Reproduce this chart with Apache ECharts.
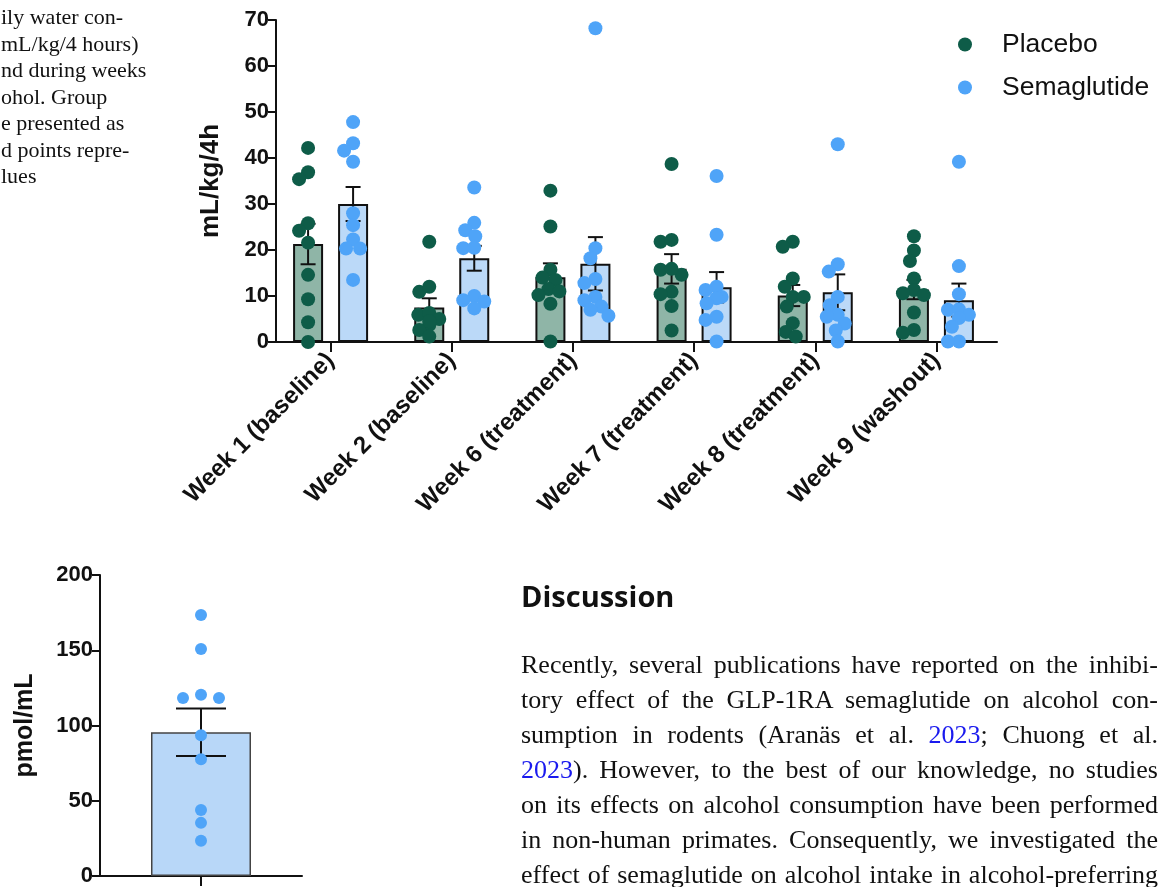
<!DOCTYPE html>
<html>
<head>
<meta charset="utf-8">
<style>
  html, body { margin: 0; width: 1163px; height: 887px; background: #fff; overflow: hidden; }
  #container { position: absolute; left: 0; top: 0; width: 1163px; height: 887px; }
  .caption { position: absolute; left: 1px; top: 4px; font-family: "Liberation Serif"; font-size: 22px; line-height: 26.5px; color: #111; white-space: nowrap; }
  .heading { position: absolute; left: 521px; top: 577px; font-family: "Open Sans"; font-weight: 700; font-size: 29px; line-height: 38px; color: #111; }
  .para { position: absolute; left: 521px; top: 647px; width: 637px; font-family: "Liberation Serif"; font-size: 26px; line-height: 35px; color: #111; }
  .para .ln { white-space: nowrap; }
  .para .ref { color: #1a1aee; }
</style>
</head>
<body>
<div id="container"></div>
<div class="caption">
  <div>ily water con-</div>
  <div>mL/kg/4 hours)</div>
  <div>nd during weeks</div>
  <div>ohol. Group</div>
  <div>e presented as</div>
  <div>d points repre-</div>
  <div>lues</div>
</div>
<div class="heading">Discussion</div>
<div class="para">
  <div class="ln"><span>Recently, several publications have reported on the inhibi-</span></div>
  <div class="ln"><span>tory effect of the GLP-1RA semaglutide on alcohol con-</span></div>
  <div class="ln"><span>sumption in rodents (Aranäs et al. <span class="ref">2023</span>; Chuong et al.</span></div>
  <div class="ln"><span><span class="ref">2023</span>). However, to the best of our knowledge, no studies</span></div>
  <div class="ln"><span>on its effects on alcohol consumption have been performed</span></div>
  <div class="ln"><span>in non-human primates. Consequently, we investigated the</span></div>
  <div class="ln"><span>effect of semaglutide on alcohol intake in alcohol-preferring</span></div>
</div>
<script src="https://cdn.jsdelivr.net/npm/echarts@6/dist/echarts.min.js"></script>
<script>
  // ---- data ----
  const weeks = ['Week 1 (baseline)', 'Week 2 (baseline)', 'Week 6 (treatment)',
    'Week 7 (treatment)', 'Week 8 (treatment)', 'Week 9 (washout)'];
  const waterTicks = [0, 10, 20, 30, 40, 50, 60, 70];

  const placeboMean = [21.3, 7.5, 14.1, 15.9, 10.1, 11.4];
  const placeboSem = [4.4, 2.0, 3.0, 3.2, 2.3, 2.1];
  const placeboPoints = [
    [42.2, 36.9, 35.4, 25.8, 24.2, 21.6, 14.6, 9.3, 4.3, 0],
    [21.8, 10.9, 12.0, 5.9, 6.3, 5.0, 3.7, 2.6, 1.2, 4.5],
    [32.9, 25.1, 15.7, 14.0, 13.5, 11.5, 11.0, 10.2, 8.3, 0.1],
    [38.7, 21.8, 22.2, 14.6, 15.7, 15.9, 10.9, 10.4, 7.8, 2.5],
    [21.8, 20.7, 13.8, 12.0, 9.8, 9.8, 7.7, 4.1, 2.2, 1.2],
    [23.0, 19.9, 17.6, 13.8, 11.3, 10.6, 10.2, 6.4, 2.6, 2.0]
  ];

  const semaMean = [30.0, 18.2, 17.0, 11.9, 10.8, 9.1];
  const semaSem = [3.7, 2.7, 5.8, 3.3, 3.9, 3.6];
  const semaPoints = [
    [47.8, 43.2, 41.6, 39.2, 28.0, 25.4, 22.3, 20.3, 20.3, 13.5],
    [33.6, 25.9, 24.3, 23.0, 20.4, 20.5, 10.0, 9.1, 8.8, 7.3],
    [68.2, 20.4, 18.2, 13.7, 12.8, 9.8, 9.1, 7.7, 7.0, 5.7],
    [36.1, 23.3, 12.0, 11.3, 9.8, 9.5, 8.4, 5.5, 4.8, 0.1],
    [43.0, 16.9, 15.3, 9.8, 8.0, 5.9, 5.5, 4.0, 2.5, 0.1],
    [39.2, 16.5, 10.4, 7.0, 7.1, 5.9, 5.2, 3.3, 0.1, 0.1]
  ];

  const plasmaCats = ['Semaglutide'];
  const plasmaTicks = [0, 50, 100, 150, 200];
  const plasmaMean = [95.5];
  const plasmaSem = [15.8];
  const plasmaPoints = [[173.5, 150.8, 120.5, 118.3, 118.3, 93.5, 77.5, 43.9, 35.3, 23.4]];

  // ---- text justification for the paragraph ----
  document.querySelectorAll('.para .ln').forEach(function (el) {
    const span = el.firstElementChild;
    const spaces = (span.textContent.match(/ /g) || []).length;
    const w = span.getBoundingClientRect().width;
    if (spaces) el.style.wordSpacing = ((637 - w) / spaces) + 'px';
  });

  const INK = '#111';
  const FONT = "'Liberation Sans', Arial, sans-serif";
  const greenDot = '#0e5c48';
  const greenBar = '#8fb5a7';
  const blueDot = '#4fa4f8';
  const blueBar = '#bbd9f8';

  // simple beeswarm: spread close values sideways (pixel offsets)
  function swarm(vals, ppu, minD, step, maxOff) {
    const order = vals.map((v, i) => i).sort((a, b) => vals[b] - vals[a]);
    const placed = [];
    const out = [];
    order.forEach(function (i) {
      const y = vals[i] * ppu;
      let dx = 0, found = false;
      for (let s = 0; s <= maxOff && !found; s += step) {
        const tries = s ? [-s, s] : [0];
        for (const t of tries) {
          if (placed.every(p => Math.hypot(p[0] - t, p[1] - y) >= minD)) {
            dx = t; found = true; break;
          }
        }
      }
      placed.push([dx, y]);
      out[i] = dx;
    });
    return out;
  }

  function dotSeries(name, points, color, axis, offset, r, minD, step, maxOff) {
    const data = [];
    points.forEach((arr, c) => arr.forEach((v, k) => data.push([c, v, k])));
    return {
      type: 'custom', name: name, xAxisIndex: axis, yAxisIndex: axis, z: 5,
      itemStyle: { color: color },
      data: data,
      renderItem: function (params, api) {
        const c = api.value(0), k = api.value(2);
        const p = api.coord([c, api.value(1)]);
        const ppu = api.size([0, 1])[1];
        const dx = swarm(points[c], ppu, minD, step, maxOff)[k];
        return { type: 'circle', shape: { cx: p[0] + offset + dx, cy: p[1], r: r }, style: { fill: color } };
      }
    };
  }

  function errorSeries(means, sems, axis, offset, capHalf) {
    return {
      type: 'custom', xAxisIndex: axis, yAxisIndex: axis, z: 4, silent: true,
      data: means.map((m, i) => [i, m - sems[i], m + sems[i]]),
      renderItem: function (params, api) {
        const lo = api.coord([api.value(0), api.value(1)]);
        const hi = api.coord([api.value(0), api.value(2)]);
        const x = lo[0] + offset;
        const st = { stroke: INK, lineWidth: 2 };
        return {
          type: 'group', children: [
            { type: 'line', shape: { x1: x, y1: lo[1], x2: x, y2: hi[1] }, style: st },
            { type: 'line', shape: { x1: x - capHalf, y1: hi[1], x2: x + capHalf, y2: hi[1] }, style: st },
            { type: 'line', shape: { x1: x - capHalf, y1: lo[1], x2: x + capHalf, y2: lo[1] }, style: st }
          ]
        };
      }
    };
  }

  const barW = 30, barGap = 15;
  const side = (barW + barGap) / 2;

  const axisLine = { show: true, lineStyle: { color: INK, width: 2 } };
  const axisTick = { show: true, length: 8, lineStyle: { color: INK, width: 2 } };

  const dom = document.getElementById('container');
  const myChart = echarts.init(dom, null, { renderer: 'canvas' });

  const option = {
    animation: false,
    textStyle: { fontFamily: FONT },
    grid: [
      { left: 270, top: 20, width: 727, height: 322 },
      { left: 100, top: 575, width: 202, height: 302 }
    ],
    legend: {
      data: ['Placebo', 'Semaglutide'],
      orient: 'vertical', left: 953, top: 26,
      icon: 'circle', itemWidth: 64, itemHeight: 14, itemGap: 16,
      textStyle: { fontFamily: FONT, fontSize: 26.5, color: INK },
      selectedMode: false
    },
    xAxis: [
      {
        type: 'category', gridIndex: 0, data: weeks,
        axisLine: axisLine,
        axisTick: { show: true, alignWithLabel: true, length: 10, lineStyle: { color: INK, width: 2 } },
        axisLabel: { interval: 0, rotate: 45, margin: 15, fontFamily: FONT, fontWeight: 'bold', fontSize: 24, color: INK }
      },
      {
        type: 'category', gridIndex: 1, data: plasmaCats,
        axisLine: axisLine,
        axisTick: { show: true, alignWithLabel: true, length: 10, lineStyle: { color: INK, width: 2 } },
        axisLabel: { show: false }
      }
    ],
    yAxis: [
      {
        type: 'value', gridIndex: 0, offset: -6,
        min: waterTicks[0], max: waterTicks[waterTicks.length - 1], interval: 10,
        name: 'mL/kg/4h', nameLocation: 'middle', nameGap: 52, nameRotate: 90,
        nameTextStyle: { fontFamily: FONT, fontWeight: 'bold', fontSize: 26, color: INK },
        axisLine: axisLine, axisTick: axisTick, splitLine: { show: false },
        axisLabel: { margin: 7, fontFamily: FONT, fontWeight: 'bold', fontSize: 22, color: INK }
      },
      {
        type: 'value', gridIndex: 1, min: plasmaTicks[0], max: plasmaTicks[plasmaTicks.length - 1], interval: 50,
        name: 'pmol/mL', nameLocation: 'middle', nameGap: 62, nameRotate: 90,
        nameTextStyle: { fontFamily: FONT, fontWeight: 'bold', fontSize: 25, color: INK },
        axisLine: axisLine, axisTick: axisTick, splitLine: { show: false },
        axisLabel: { margin: 7, fontFamily: FONT, fontWeight: 'bold', fontSize: 22, color: INK }
      }
    ],
    series: [
      {
        type: 'bar', xAxisIndex: 0, yAxisIndex: 0, data: placeboMean,
        barWidth: barW, barGap: '50%', z: 2,
        itemStyle: { color: greenBar, borderColor: INK, borderWidth: 2 }
      },
      {
        type: 'bar', xAxisIndex: 0, yAxisIndex: 0, data: semaMean,
        barWidth: barW, z: 2,
        itemStyle: { color: blueBar, borderColor: INK, borderWidth: 2 }
      },
      errorSeries(placeboMean, placeboSem, 0, -side, 7.5),
      errorSeries(semaMean, semaSem, 0, side, 7.5),
      dotSeries('Placebo', placeboPoints, greenDot, 0, -side, 7, 11, 1, 14),
      dotSeries('Semaglutide', semaPoints, blueDot, 0, side, 7, 11, 1, 14),
      {
        type: 'bar', xAxisIndex: 1, yAxisIndex: 1, data: plasmaMean,
        barWidth: 100, z: 2,
        itemStyle: { color: '#b8d7f8', borderColor: '#444', borderWidth: 1.5 }
      },
      errorSeries(plasmaMean, plasmaSem, 1, 0, 25),
      dotSeries('Plasma', plasmaPoints, blueDot, 1, 0, 6, 12.5, 18, 18)
    ]
  };

  myChart.setOption(option);
</script>
</body>
</html>
